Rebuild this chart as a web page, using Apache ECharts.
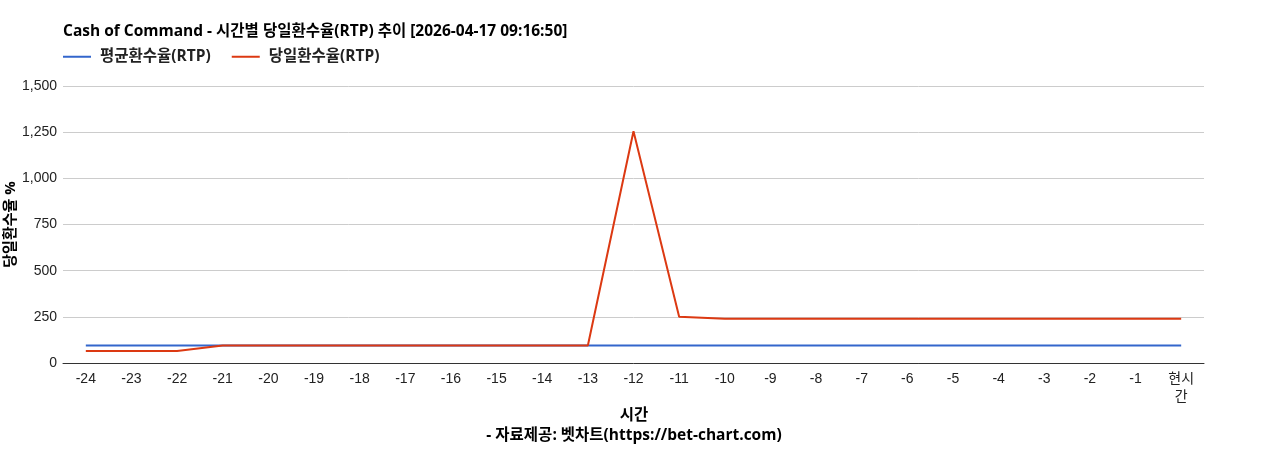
<!DOCTYPE html>
<html lang="ko">
<head>
    <meta charset="utf-8">
    <title>Cash of Command RTP</title>
    <script type="text/javascript" src="https://cdn.jsdelivr.net/npm/echarts@6/dist/echarts.min.js"></script>
    <style>
        html, body { margin: 0; padding: 0; background: #fff; }
    </style>
</head>

<body>
    <div id="main" style="width:1268px;height:450px;"></div>

    <script type="text/javascript">
    // 시간 축 (카테고리)
    var hours = ['-24', '-23', '-22', '-21', '-20', '-19', '-18', '-17', '-16', '-15', '-14', '-13',
                 '-12', '-11', '-10', '-9', '-8', '-7', '-6', '-5', '-4', '-3', '-2', '-1', '현시간'];
    // 평균환수율
    var avgRtp = [95, 95, 95, 95, 95, 95, 95, 95, 95, 95, 95, 95,
                  95, 95, 95, 95, 95, 95, 95, 95, 95, 95, 95, 95, 95];
    // 당일환수율
    var dayRtp = [65, 65, 65, 95, 95, 95, 95, 95, 95, 95, 95, 95,
                  1255, 250, 240, 240, 240, 240, 240, 240, 240, 240, 240, 240, 240];
    var yTicks = [0, 250, 500, 750, 1000, 1250, 1500];

    var fontFamily = '"Liberation Sans", Arial, "Noto Sans CJK KR", sans-serif';
    var boldFamily = '"Open Sans", "Noto Sans CJK KR", sans-serif';
    var myChart = echarts.init(document.getElementById('main'));

    myChart.setOption({
        animation: false,
        textStyle: { fontFamily: fontFamily },
        title: [{
            text: 'Cash of Command - 시간별 당일환수율(RTP) 추이 [2026-04-17 09:16:50]',
            left: 63,
            top: 24,
            padding: 0,
            textStyle: { fontSize: 15.5, fontWeight: 'bold', color: '#000', fontFamily: boldFamily }
        }, {
            text: '시간',
            left: 'center',
            top: 408,
            padding: 0,
            textStyle: { fontSize: 15.5, fontWeight: 'bold', color: '#000', fontFamily: boldFamily }
        }, {
            text: '- 자료제공: 벳차트(https://bet-chart.com)',
            left: 'center',
            top: 428,
            padding: 0,
            textStyle: { fontSize: 15.5, fontWeight: 'bold', color: '#000', fontFamily: boldFamily }
        }],
        legend: {
            left: 58,
            top: 44,
            itemWidth: 28,
            itemHeight: 2,
            itemGap: 21,
            icon: 'rect',
            textStyle: {
                fontSize: 15.5, fontWeight: 'bold', color: '#222', fontFamily: boldFamily,
                padding: [0, 0, 0, 4]
            },
            data: ['평균환수율(RTP)', '당일환수율(RTP)']
        },
        grid: {
            left: 63,
            right: 64,
            top: 86,
            bottom: 87,
            outerBoundsMode: 'none'
        },
        xAxis: {
            type: 'category',
            data: hours,
            boundaryGap: true,
            axisLine: { lineStyle: { color: '#333', width: 1 } },
            axisTick: { show: false },
            axisLabel: {
                interval: 0,
                fontSize: 14,
                color: '#222',
                margin: 7,
                lineHeight: 18,
                formatter: function (v) { return v === '현시간' ? '현시\n간' : v; }
            }
        },
        yAxis: {
            type: 'value',
            min: yTicks[0],
            max: yTicks[yTicks.length - 1],
            interval: 250,
            name: '당일환수율 %',
            nameLocation: 'middle',
            nameGap: 45,
            nameMoveOverlap: false,
            nameTextStyle: { fontSize: 15, fontWeight: 'bold', color: '#000', fontFamily: boldFamily },
            axisLine: { show: false },
            axisTick: { show: false },
            axisLabel: {
                fontSize: 14,
                color: '#222',
                margin: 6,
                formatter: function (v) { return v.toLocaleString('en-US'); }
            },
            splitLine: { lineStyle: { color: '#cccccc', width: 1 } }
        },
        series: [{
            name: '평균환수율(RTP)',
            type: 'line',
            data: avgRtp,
            symbol: 'none',
            itemStyle: { color: '#3366cc' },
            lineStyle: { color: '#3366cc', width: 2 }
        }, {
            name: '당일환수율(RTP)',
            type: 'line',
            data: dayRtp,
            symbol: 'none',
            itemStyle: { color: '#dc3912' },
            lineStyle: { color: '#dc3912', width: 2 }
        }]
    });
    </script>
</body>
</html>
